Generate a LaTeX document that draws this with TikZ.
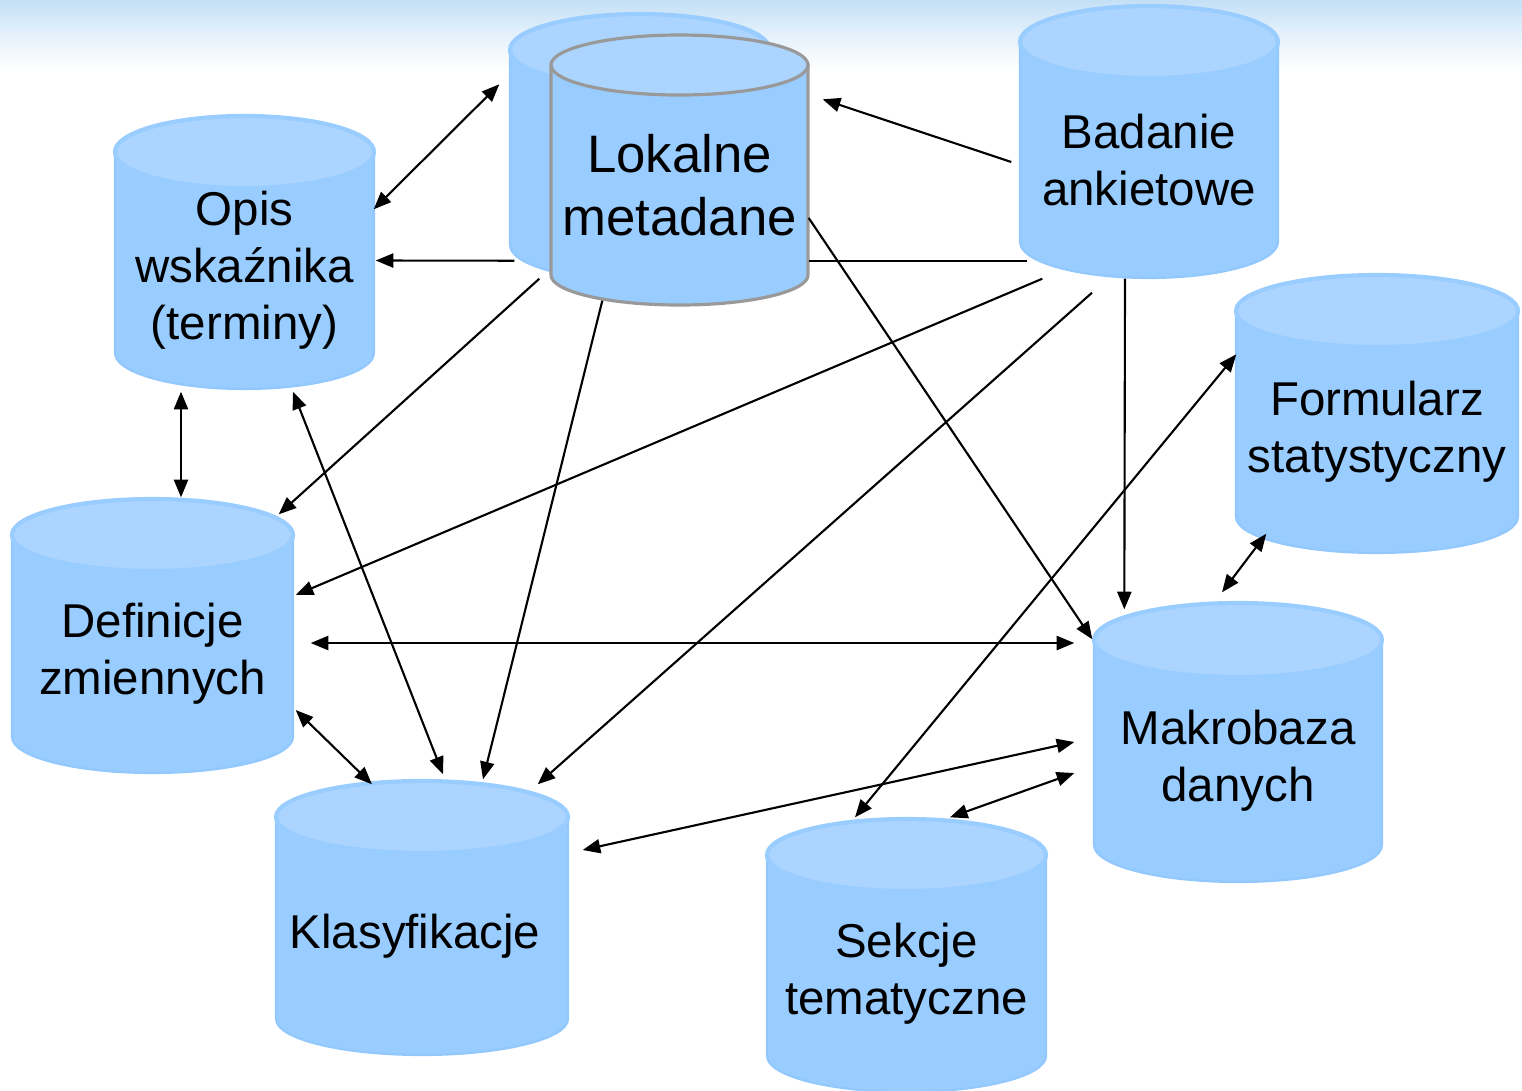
\documentclass[tikz,border=0pt]{standalone}
\usepackage{fontspec}
\setmainfont{Liberation Sans}
\usetikzlibrary{calc}
\usetikzlibrary{arrows.meta}

\definecolor{dbbody}{HTML}{99CCFF}
\definecolor{dbtop}{HTML}{ABD5FF}
\definecolor{dbrim}{HTML}{92C8FD}
\definecolor{dbgray}{HTML}{999999}
\definecolor{skyblue}{HTML}{C4E0F6}

\tikzset{
	link/.style={line width=0.6pt, -{Triangle[length=5pt,width=4pt]}},
	biglink/.style={line width=0.6pt, {Triangle[length=5pt,width=4pt]}-{Triangle[length=5pt,width=4pt]}},
	plainlink/.style={line width=0.6pt},
	dbtext/.style={inner sep=0pt, align=center, font=\fontsize{13.5}{16.2}\selectfont},
	dblook/.style={},
}

% cylinder: [node options] name, cx, top y, bottom y, rx, ry, text
\newcommand{\dbcyl}[8][]{%
	\filldraw[fill=dbbody, draw=dbrim, line width=0.6pt, dblook] (#3-#6,#4) -- (#3-#6,#5) arc[start angle=180, end angle=360, x radius=#6*0.01cm, y radius=#7*0.01cm] -- (#3+#6,#4) -- cycle;
	\filldraw[fill=dbtop, draw=dbbody, line width=1.2pt, dblook] (#3,#4) ellipse[x radius=#6*0.01cm, y radius=#7*0.01cm];
	\node[dbtext, minimum width=2*#6*0.01cm, minimum height=(#5+#7-#4)*0.01cm, #1] (#2) at (#3,{(#4+#5+#7)/2}) {#8};
}

\begin{document}
\begin{tikzpicture}[x=0.01cm, y=-0.01cm]
	\useasboundingbox (0,0) rectangle (1522,1090);
	\shade[top color=skyblue, bottom color=white, middle color=skyblue!45] (0,0) rectangle (1522,70);

	\dbcyl{lokback}{640}{50}{245}{130}{36}{}
	\begin{scope}[dblook/.style={draw=dbgray, line width=0.9pt}]
		\dbcyl[font=\fontsize{15}{17.9}\selectfont]{lokal}{679.5}{65}{275}{128.5}{30}{Lokalne\\metadane}
	\end{scope}
	\dbcyl{opis}{244.5}{152}{353}{129.5}{36}{Opis\\wskaźnika\\(terminy)}
	\dbcyl{badanie}{1149}{42}{242}{129}{36}{Badanie\\ankietowe}
	\dbcyl{formul}{1377}{311}{517}{141}{36}{Formularz\\statystyczny}
	\dbcyl{defin}{152.5}{535}{737}{140.5}{36}{Definicje\\zmiennych}
	\dbcyl{makro}{1238}{640}{845}{144}{37}{Makrobaza\\danych}
	\dbcyl[xshift=-0.07cm]{klas}{422}{817}{1019}{146}{36}{Klasyfikacje}
	\dbcyl{sekcje}{906.5}{855}{1056}{139.5}{36}{Sekcje\\tematyczne}

	\draw[biglink] ($(opis.north east)+(-1,58)$) -- ($(lokback.north west)+(-10,35)$);
	\draw[link] ($(badanie.west)+(-8,2)$) -- ($(lokal.north east)+(14,35)$);
	\draw[link] ($(lokback.south west)+(5,-21)$) -- ($(opis.east)+(1,-10)$);
	\draw[plainlink] ($(badanie.south west)+(8,-18)$) -- ($(lokal.south east)+(0,-45)$);
	\draw[link] ($(lokback.south west)+(30,-3)$) -- ($(defin.north east)+(-15,-20)$);
	\draw[link] ($(badanie.south west)+(23,0)$) -- ($(defin.east)+(2,-59)$);
	\draw[link] ($(lokal.south west)+(52,-5)$) -- ($(klas.north)+(68,-37)$);
	\draw[link] ($(lokal.east)+(0,33)$) -- ($(makro.north west)+(-1,0)$);
	\draw[link] ($(badanie.south)+(-57,14)$) -- ($(klas.north east)+(-24,-32)$);
	\draw[link] ($(badanie.south)+(-24,0)$) -- ($(makro.north west)+(31,-30)$);
	\draw[biglink] ($(formul.north west)+(1,44)$) -- ($(sekcje.north)+(-51.5,-37)$);
	\draw[biglink] ($(formul.south west)+(31,-20)$) -- ($(makro.north)+(-16,-47)$);
	\draw[biglink] ($(opis.south)+(-63.5,2)$) -- ($(defin.north)+(28.5,-37)$);
	\draw[biglink] ($(opis.south)+(48.5,2)$) -- ($(klas.north)+(28,-42)$);
	\draw[biglink] ($(defin.east)+(17,-11)$) -- ($(makro.west)+(-19,-118)$);
	\draw[biglink] ($(defin.east)+(2,56)$) -- ($(klas.north)+(-43,-32)$);
	\draw[biglink] ($(makro.west)+(-19,-19)$) -- ($(klas.east)+(21,-86)$);
	\draw[biglink] ($(makro.west)+(-19,12)$) -- ($(sekcje.north)+(43.5,-37)$);
\end{tikzpicture}
\end{document}
